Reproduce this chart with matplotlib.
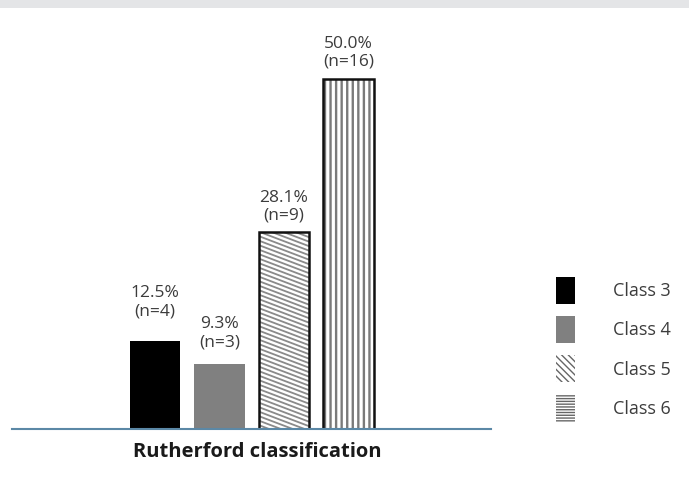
import numpy as np
import matplotlib
matplotlib.use("Agg")
import matplotlib.pyplot as plt
from matplotlib.patches import Patch, Rectangle
from matplotlib.collections import LineCollection
from matplotlib.transforms import IdentityTransform

# data
classes = ["Class 3", "Class 4", "Class 5", "Class 6"]
percent = [12.5, 9.3, 28.1, 50.0]
counts = [4, 3, 9, 16]

plt.rcParams["font.family"] = ["Open Sans", "DejaVu Sans"]

fig = plt.figure(figsize=(6.89, 4.91), dpi=100)

# grey strip across the top
fig.patches.append(Rectangle((0, 1 - 8 / 491), 1, 8 / 491, transform=fig.transFigure,
                             facecolor="#e4e5e7", edgecolor="none", zorder=0))

ax = fig.add_axes([12 / 689, 62 / 491, 479 / 689, 421 / 491])
ax.set_xlim(-2.217, 5.209)
ax.set_ylim(0, 60.14)

x = np.arange(len(classes))
fills = ["black", "#808080", "white", "white"]

bars = []
for i in range(len(classes)):
    b = ax.bar(x[i], percent[i], width=0.79, color=fills[i],
               edgecolor=fills[i], linewidth=0, zorder=2)[0]
    bars.append(b)

# class 6: vertical stripes
with plt.rc_context({"hatch.linewidth": 1.7}):
    b6 = ax.bar(x[3], percent[3], width=0.79, color="none", hatch="|||",
                edgecolor="#7a7a7a", linewidth=0, zorder=2.5)[0]
    if hasattr(b6, "set_hatch_linewidth"):
        b6.set_hatch_linewidth(1.7)

# class 5: shallow diagonal stripes, clipped to the bar
bb = bars[2].get_window_extent()
slope = 0.38
pitch = 4.5
segs = []
c = bb.y0 - 5
while c < bb.y1 + slope * bb.width + 5:
    segs.append([(bb.x0 - 2, c + 2 * slope), (bb.x1 + 2, c - slope * (bb.width + 2))])
    c += pitch
lc = LineCollection(segs, colors="#8a8a8a", linewidths=1.3,
                    transform=IdentityTransform(), zorder=2.5)
ax.add_collection(lc)
lc.set_clip_path(bars[2])

# outlines on the patterned bars
for i in [2, 3]:
    ax.bar(x[i], percent[i], width=0.79, color="none",
           edgecolor="#111111", linewidth=1.8, zorder=3)

# value labels
offsets = [16, 9.5, 6, 6.5]
for i in range(len(classes)):
    ax.annotate(f"{percent[i]:.1f}%\n(n={counts[i]})", (x[i], percent[i]),
                xytext=(0, offsets[i]), textcoords="offset points",
                ha="center", va="bottom", fontsize=12.5, color="#3c3c3c",
                linespacing=1.2)

for s in ["top", "right", "left"]:
    ax.spines[s].set_visible(False)
ax.spines["bottom"].set_color("#5b88a6")
ax.spines["bottom"].set_linewidth(1.5)
ax.spines["bottom"].set_zorder(4)
ax.set_xticks([])
ax.set_yticks([])
ax.patch.set_alpha(0)

# legend (class 6 shown with horizontal lines as in the original)
handles = [
    Patch(facecolor="black", edgecolor="black", linewidth=0),
    Patch(facecolor="#808080", edgecolor="#808080", linewidth=0),
    Patch(facecolor="white", edgecolor="#666666", linewidth=0, hatch="\\\\\\\\\\"),
    Patch(facecolor="white", edgecolor="#666666", linewidth=0, hatch="------"),
]
fig.legend(handles, classes, loc="upper left",
           bbox_to_anchor=(556 / 689, 1 - 277 / 491), frameon=False,
           fontsize=13, handlelength=1.05, handleheight=1.92,
           handletextpad=2.1, labelspacing=0.68, borderpad=0,
           borderaxespad=0, labelcolor="#3c3c3c")

fig.text(257 / 689, 1 - 452 / 491, "Rutherford classification",
         ha="center", va="center", fontsize=14.5, fontweight="bold", color="#1a1a1a")

fig.savefig("out.png", dpi=100)
